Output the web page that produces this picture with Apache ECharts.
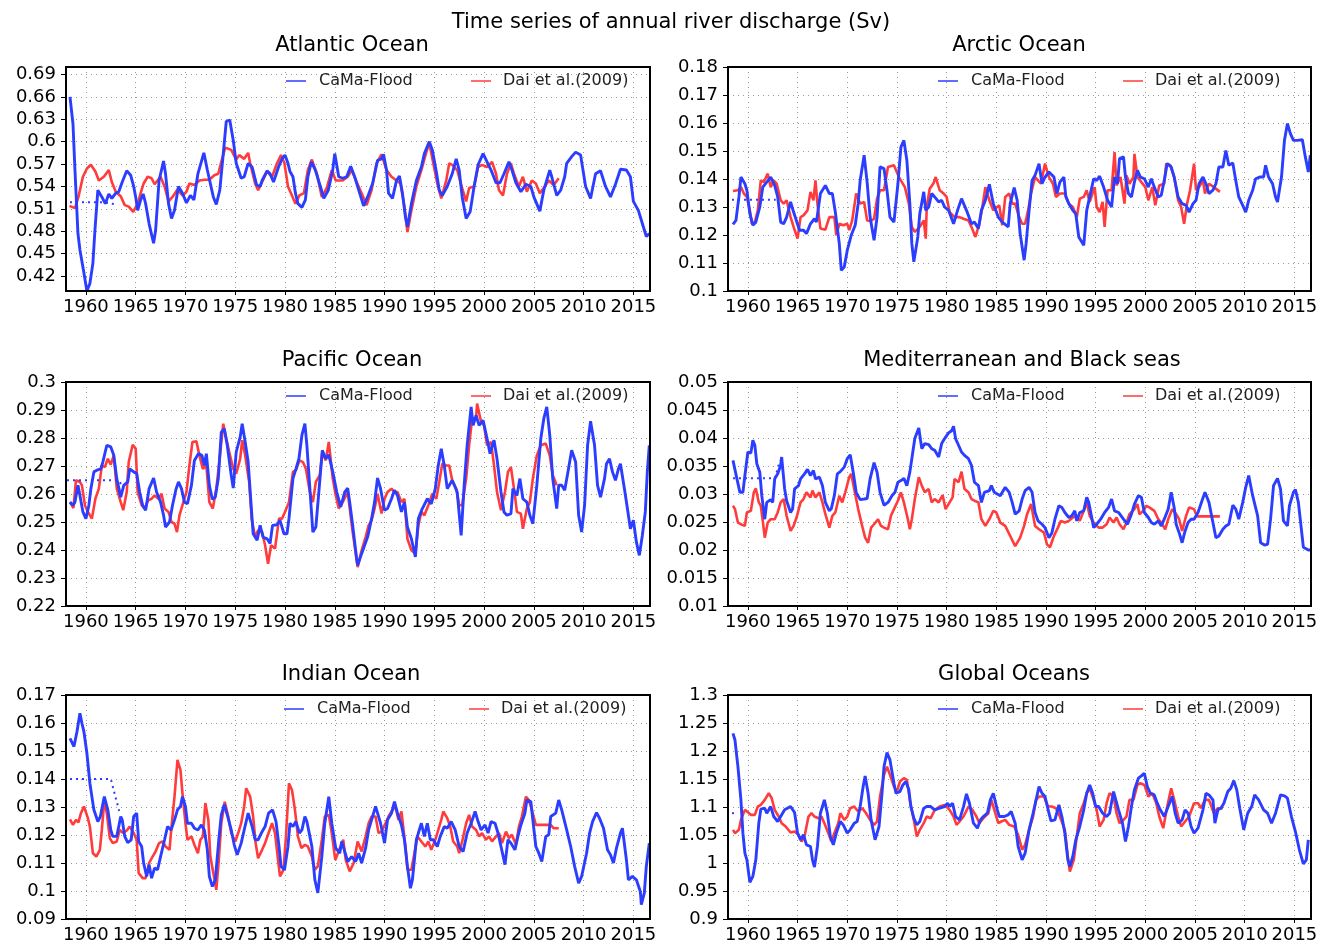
<!DOCTYPE html>
<html>
<head>
<meta charset="utf-8">
<title>Time series of annual river discharge (Sv)</title>
<script src="https://cdn.jsdelivr.net/npm/echarts@6.0.0/dist/echarts.min.js"></script>
<style>
  html, body { margin: 0; padding: 0; background: #fff; }
  #main { width: 1330px; height: 948px; }
</style>
</head>
<body>
<div id="main"></div>
<script>
/*############  tick labels  ############*/
var yearTicks = [1960, 1965, 1970, 1975, 1980, 1985, 1990, 1995, 2000, 2005, 2010, 2015];
var atlTicks = [0.42, 0.45, 0.48, 0.51, 0.54, 0.57, 0.6, 0.63, 0.66, 0.69];
var arcTicks = [0.1, 0.11, 0.12, 0.13, 0.14, 0.15, 0.16, 0.17, 0.18];
var pacTicks = [0.22, 0.23, 0.24, 0.25, 0.26, 0.27, 0.28, 0.29, 0.3];
var medTicks = [0.01, 0.015, 0.02, 0.025, 0.03, 0.035, 0.04, 0.045, 0.05];
var indTicks = [0.09, 0.1, 0.11, 0.12, 0.13, 0.14, 0.15, 0.16, 0.17];
var gloTicks = [0.9, 0.95, 1, 1.05, 1.1, 1.15, 1.2, 1.25, 1.3];

/*############  Atlantic Ocean  ############*/
var atlBlue = [[1958.4,0.660],[1958.7,0.624],[1958.9,0.562],[1959.2,0.477],[1959.4,0.455],[1959.75,0.428],[1960.1,0.400],[1960.4,0.410],[1960.7,0.437],[1960.9,0.480],[1961.2,0.535],[1961.4,0.536],[1961.6,0.526],[1961.95,0.517],[1962.3,0.530],[1962.6,0.524],[1963.0,0.531],[1963.3,0.533],[1963.65,0.546],[1964.1,0.561],[1964.5,0.555],[1964.8,0.540],[1965.0,0.526],[1965.2,0.508],[1965.5,0.522],[1965.75,0.530],[1966.0,0.517],[1966.35,0.490],[1966.8,0.464],[1967.0,0.481],[1967.35,0.548],[1967.8,0.574],[1968.0,0.557],[1968.3,0.517],[1968.6,0.497],[1968.9,0.508],[1969.3,0.540],[1969.7,0.531],[1970.1,0.518],[1970.5,0.528],[1970.85,0.522],[1971.25,0.557],[1971.85,0.585],[1972.2,0.562],[1972.8,0.526],[1973.1,0.516],[1973.45,0.535],[1973.8,0.584],[1974.1,0.627],[1974.45,0.629],[1974.8,0.602],[1975.1,0.571],[1975.6,0.551],[1975.9,0.553],[1976.3,0.571],[1976.7,0.566],[1977.15,0.542],[1977.5,0.540],[1977.7,0.548],[1978.2,0.561],[1978.5,0.557],[1978.85,0.546],[1979.35,0.566],[1979.7,0.577],[1980.0,0.582],[1980.3,0.571],[1980.5,0.560],[1980.8,0.553],[1981.05,0.531],[1981.3,0.517],[1981.7,0.512],[1982.05,0.522],[1982.3,0.553],[1982.65,0.573],[1983.05,0.562],[1983.6,0.538],[1983.9,0.524],[1984.35,0.535],[1984.8,0.562],[1985.0,0.584],[1985.4,0.553],[1985.8,0.551],[1986.2,0.553],[1986.6,0.567],[1987.0,0.553],[1987.5,0.531],[1987.9,0.514],[1988.3,0.526],[1988.8,0.544],[1989.3,0.575],[1989.7,0.577],[1989.9,0.583],[1990.2,0.562],[1990.4,0.531],[1990.8,0.524],[1991.2,0.548],[1991.5,0.554],[1991.8,0.531],[1992.1,0.499],[1992.3,0.486],[1992.7,0.517],[1993.2,0.548],[1993.7,0.566],[1994.0,0.584],[1994.5,0.600],[1994.8,0.589],[1995.2,0.560],[1995.5,0.535],[1995.8,0.528],[1996.3,0.540],[1996.8,0.557],[1997.2,0.577],[1997.5,0.562],[1997.8,0.526],[1998.2,0.497],[1998.6,0.506],[1999.0,0.540],[1999.4,0.569],[1999.9,0.584],[2000.3,0.573],[2000.7,0.562],[2001.2,0.545],[2001.6,0.545],[2002.0,0.557],[2002.5,0.573],[2002.8,0.562],[2003.2,0.545],[2003.7,0.533],[2004.2,0.543],[2004.7,0.540],[2005.0,0.526],[2005.6,0.507],[2006.0,0.535],[2006.6,0.562],[2006.8,0.553],[2007.3,0.528],[2007.7,0.535],[2008.1,0.553],[2008.3,0.571],[2008.8,0.580],[2009.2,0.586],[2009.7,0.582],[2010.2,0.540],[2010.7,0.524],[2011.2,0.557],[2011.7,0.561],[2012.2,0.540],[2012.7,0.526],[2013.2,0.543],[2013.7,0.563],[2014.3,0.562],[2014.7,0.553],[2015.0,0.520],[2015.5,0.508],[2016.0,0.486],[2016.3,0.473],[2016.6,0.477]];
var atlRed = [[1958.35,0.514],[1958.9,0.511],[1959.25,0.526],[1959.7,0.553],[1960.1,0.564],[1960.5,0.569],[1960.95,0.560],[1961.3,0.548],[1961.8,0.553],[1962.3,0.562],[1962.6,0.546],[1963.0,0.533],[1963.5,0.527],[1963.9,0.515],[1964.3,0.513],[1964.75,0.506],[1965.2,0.517],[1965.5,0.531],[1965.8,0.544],[1966.2,0.553],[1966.6,0.551],[1966.9,0.543],[1967.2,0.548],[1967.5,0.553],[1967.9,0.540],[1968.3,0.520],[1968.7,0.526],[1969.2,0.536],[1969.7,0.528],[1970.1,0.533],[1970.4,0.544],[1970.9,0.542],[1971.4,0.548],[1971.9,0.549],[1972.4,0.549],[1972.9,0.555],[1973.3,0.557],[1973.6,0.573],[1974.0,0.592],[1974.6,0.589],[1975.1,0.576],[1975.4,0.582],[1975.9,0.577],[1976.3,0.585],[1976.5,0.571],[1977.0,0.544],[1977.3,0.535],[1977.7,0.546],[1978.2,0.560],[1978.7,0.553],[1979.2,0.571],[1979.6,0.582],[1979.95,0.571],[1980.3,0.540],[1980.7,0.528],[1981.05,0.517],[1981.45,0.528],[1981.9,0.531],[1982.3,0.562],[1982.7,0.576],[1983.2,0.557],[1983.7,0.526],[1984.2,0.538],[1984.7,0.562],[1985.1,0.548],[1985.8,0.548],[1986.3,0.553],[1986.7,0.562],[1987.2,0.546],[1987.7,0.531],[1988.2,0.515],[1988.7,0.535],[1989.2,0.571],[1989.7,0.583],[1990.2,0.562],[1990.7,0.553],[1991.2,0.548],[1991.6,0.544],[1992.0,0.513],[1992.3,0.479],[1992.7,0.508],[1993.2,0.540],[1993.7,0.562],[1994.2,0.586],[1994.5,0.598],[1994.9,0.571],[1995.3,0.544],[1995.7,0.524],[1996.2,0.548],[1996.5,0.571],[1996.8,0.569],[1997.3,0.562],[1997.7,0.542],[1998.2,0.520],[1998.5,0.538],[1999.0,0.540],[1999.4,0.566],[1999.8,0.569],[2000.3,0.566],[2000.8,0.573],[2001.2,0.557],[2001.5,0.535],[2001.9,0.528],[2002.3,0.557],[2002.7,0.571],[2003.0,0.557],[2003.5,0.540],[2003.9,0.553],[2004.3,0.533],[2004.8,0.548],[2005.2,0.544],[2005.6,0.531],[2006.1,0.540],[2006.5,0.548],[2007.0,0.542],[2007.5,0.551]];
var atlDot = [[1958.4,0.519],[1961.8,0.519],[1962.6,0.517],[1963.0,0.516]];

/*############  Arctic Ocean  ############*/
var arcBlue = [[1958.5,0.1238],[1958.8,0.1252],[1959.1,0.1336],[1959.3,0.1407],[1959.7,0.1383],[1959.9,0.136],[1960.2,0.1276],[1960.5,0.1235],[1960.8,0.1246],[1961.2,0.130],[1961.5,0.1371],[1962.0,0.1393],[1962.3,0.1407],[1962.7,0.1377],[1963.0,0.1336],[1963.3,0.1246],[1963.6,0.124],[1963.9,0.1264],[1964.3,0.1318],[1964.6,0.1282],[1964.8,0.1288],[1965.2,0.1217],[1965.6,0.1217],[1965.9,0.1205],[1966.3,0.124],[1966.7,0.1258],[1966.9,0.1246],[1967.3,0.1348],[1967.5,0.136],[1967.8,0.1377],[1968.2,0.1348],[1968.5,0.1348],[1968.8,0.1282],[1969.2,0.1169],[1969.4,0.1074],[1969.7,0.1086],[1970.0,0.1145],[1970.4,0.1199],[1970.8,0.1235],[1971.1,0.1312],[1971.3,0.1395],[1971.7,0.1485],[1972.0,0.1389],[1972.3,0.1264],[1972.7,0.1181],[1973.0,0.1264],[1973.3,0.1443],[1973.7,0.1437],[1974.0,0.136],[1974.3,0.1264],[1974.7,0.1246],[1975.1,0.1383],[1975.4,0.1514],[1975.7,0.1538],[1976.0,0.1467],[1976.3,0.1312],[1976.5,0.1169],[1976.7,0.1104],[1977.1,0.1193],[1977.3,0.1276],[1977.7,0.1354],[1977.9,0.1288],[1978.2,0.130],[1978.5,0.1348],[1978.8,0.1336],[1979.2,0.1318],[1979.5,0.1324],[1979.8,0.130],[1980.2,0.1288],[1980.7,0.124],[1981.1,0.1288],[1981.5,0.133],[1982.0,0.1288],[1982.5,0.124],[1982.8,0.1246],[1983.2,0.1223],[1983.5,0.1288],[1983.9,0.1324],[1984.3,0.1381],[1984.7,0.1312],[1985.2,0.1264],[1985.6,0.1246],[1986.2,0.1229],[1986.4,0.1312],[1986.8,0.1369],[1987.1,0.1324],[1987.4,0.1205],[1987.8,0.111],[1988.0,0.1169],[1988.3,0.1288],[1988.6,0.1395],[1988.9,0.1413],[1989.3,0.1455],[1989.6,0.1383],[1989.9,0.1407],[1990.3,0.1425],[1990.8,0.1407],[1991.1,0.1348],[1991.4,0.1389],[1991.8,0.1407],[1992.0,0.1336],[1992.3,0.1312],[1992.7,0.1288],[1993.0,0.1276],[1993.3,0.1193],[1993.5,0.1187],[1993.8,0.1163],[1994.1,0.1288],[1994.4,0.1336],[1994.8,0.1401],[1995.1,0.1395],[1995.4,0.141],[1995.8,0.1371],[1996.2,0.1324],[1996.6,0.130],[1996.9,0.1407],[1997.2,0.1383],[1997.4,0.1473],[1997.8,0.1479],[1998.0,0.1407],[1998.3,0.1348],[1998.6,0.1336],[1998.9,0.1389],[1999.2,0.1431],[1999.5,0.1407],[1999.9,0.1401],[2000.3,0.1371],[2000.6,0.1401],[2000.9,0.1371],[2001.3,0.1336],[2001.6,0.1342],[2001.9,0.1395],[2002.2,0.1455],[2002.6,0.1443],[2002.9,0.1407],[2003.3,0.1336],[2003.7,0.1312],[2004.1,0.1306],[2004.4,0.1282],[2004.8,0.1312],[2005.1,0.1324],[2005.4,0.1383],[2005.8,0.1407],[2006.1,0.1383],[2006.4,0.1348],[2006.8,0.136],[2007.1,0.1383],[2007.4,0.1443],[2007.8,0.1443],[2008.1,0.1502],[2008.4,0.1449],[2008.8,0.1457],[2009.1,0.1395],[2009.4,0.1336],[2009.8,0.1306],[2010.1,0.1282],[2010.4,0.1324],[2010.8,0.136],[2011.1,0.1401],[2011.5,0.1407],[2011.9,0.1407],[2012.1,0.1449],[2012.4,0.1407],[2012.8,0.1383],[2013.1,0.1336],[2013.3,0.1318],[2013.7,0.1407],[2014.0,0.1538],[2014.3,0.1598],[2014.6,0.1562],[2014.9,0.1538],[2015.3,0.1538],[2015.8,0.154],[2016.1,0.1479],[2016.4,0.1425],[2016.6,0.1485]];
var arcRed = [[1958.5,0.1357],[1959.0,0.136],[1959.3,0.1371],[1959.6,0.1348],[1959.9,0.1336],[1960.2,0.1288],[1960.4,0.124],[1960.7,0.1246],[1961.0,0.1288],[1961.3,0.1395],[1961.6,0.1389],[1962.0,0.1419],[1962.3,0.1371],[1962.6,0.1395],[1962.9,0.1383],[1963.3,0.1324],[1963.6,0.1312],[1963.9,0.1324],[1964.3,0.1264],[1964.6,0.1229],[1965.0,0.1187],[1965.3,0.1264],[1965.6,0.127],[1966.0,0.1288],[1966.3,0.1354],[1966.6,0.1324],[1966.8,0.1395],[1967.0,0.1312],[1967.3,0.1223],[1967.8,0.1219],[1968.2,0.1264],[1968.4,0.127],[1968.7,0.1264],[1968.9,0.1199],[1969.2,0.124],[1969.6,0.1235],[1970.0,0.124],[1970.2,0.1217],[1970.5,0.1252],[1970.9,0.1348],[1971.3,0.1312],[1971.7,0.1318],[1972.0,0.1252],[1972.3,0.125],[1972.7,0.1258],[1973.0,0.133],[1973.3,0.136],[1973.7,0.136],[1974.1,0.1443],[1974.7,0.1449],[1974.9,0.1455],[1975.2,0.1407],[1975.5,0.1389],[1975.8,0.1371],[1976.2,0.1312],[1976.5,0.1229],[1976.8,0.1211],[1977.3,0.1229],[1977.7,0.1252],[1977.9,0.1187],[1978.0,0.130],[1978.3,0.1365],[1978.7,0.1386],[1978.9,0.1407],[1979.3,0.136],[1979.7,0.1348],[1980.0,0.1336],[1980.3,0.1282],[1980.8,0.1264],[1981.3,0.1264],[1981.7,0.1258],[1982.2,0.1252],[1982.5,0.1229],[1982.9,0.1193],[1983.3,0.124],[1983.6,0.130],[1983.9,0.1371],[1984.3,0.1324],[1984.7,0.1288],[1985.3,0.1306],[1985.6,0.1235],[1985.9,0.1336],[1986.3,0.1348],[1986.6,0.1312],[1986.9,0.1312],[1987.3,0.1264],[1987.6,0.124],[1987.9,0.124],[1988.2,0.1288],[1988.5,0.1348],[1988.9,0.1407],[1989.2,0.1395],[1989.5,0.1383],[1989.9,0.1455],[1990.3,0.1407],[1990.7,0.1383],[1991.0,0.1336],[1991.4,0.1348],[1991.9,0.1348],[1992.3,0.1312],[1992.7,0.130],[1993.1,0.1264],[1993.4,0.133],[1993.8,0.1336],[1994.1,0.136],[1994.4,0.1318],[1994.9,0.1371],[1995.1,0.130],[1995.4,0.1282],[1995.7,0.1318],[1995.9,0.1229],[1996.2,0.136],[1996.6,0.136],[1996.9,0.1496],[1997.1,0.1377],[1997.5,0.1407],[1997.9,0.1312],[1998.1,0.1413],[1998.4,0.1383],[1998.8,0.1407],[1998.9,0.149],[1999.2,0.1407],[1999.6,0.1389],[2000.0,0.1371],[2000.3,0.1324],[2000.7,0.1371],[2001.0,0.1306],[2001.4,0.1377],[2001.9,0.1383],[2002.1,0.1455],[2002.5,0.1449],[2002.9,0.1407],[2003.3,0.1324],[2003.6,0.130],[2003.9,0.124],[2004.2,0.1312],[2004.5,0.136],[2004.9,0.1455],[2005.1,0.136],[2005.4,0.1371],[2005.8,0.1395],[2006.0,0.1348],[2006.4,0.1383],[2006.9,0.1371],[2007.5,0.1354]];
var arcDot = [[1958.4,0.1326],[1962.8,0.1326]];

/*############  Pacific Ocean  ############*/
var pacBlue = [[1958.4,0.2571],[1958.7,0.256],[1958.9,0.2571],[1959.2,0.2631],[1959.4,0.2595],[1959.7,0.2536],[1960.0,0.2512],[1960.3,0.256],[1960.5,0.2619],[1960.8,0.2679],[1961.1,0.2685],[1961.5,0.269],[1961.7,0.2714],[1962.1,0.2774],[1962.5,0.2768],[1962.8,0.2738],[1963.1,0.2655],[1963.5,0.2589],[1963.8,0.2631],[1964.2,0.2643],[1964.4,0.269],[1964.8,0.2679],[1965.1,0.2673],[1965.4,0.2607],[1965.7,0.256],[1966.0,0.2542],[1966.35,0.2619],[1966.8,0.2657],[1967.1,0.2607],[1967.5,0.2571],[1967.8,0.2524],[1968.0,0.2482],[1968.4,0.25],[1968.7,0.256],[1969.05,0.2617],[1969.3,0.2643],[1969.6,0.2619],[1969.9,0.2571],[1970.2,0.2565],[1970.6,0.2631],[1970.9,0.272],[1971.3,0.2744],[1971.65,0.2738],[1971.9,0.2702],[1972.1,0.2744],[1972.4,0.2631],[1972.7,0.2581],[1973.0,0.2589],[1973.3,0.2655],[1973.6,0.2821],[1973.9,0.2833],[1974.2,0.2774],[1974.6,0.2667],[1974.8,0.2621],[1975.1,0.275],[1975.5,0.2804],[1975.7,0.2851],[1976.0,0.2786],[1976.3,0.2714],[1976.6,0.256],[1976.8,0.2458],[1977.2,0.2435],[1977.5,0.2488],[1977.8,0.2446],[1978.2,0.244],[1978.5,0.2423],[1978.75,0.2488],[1979.2,0.249],[1979.5,0.2506],[1979.9,0.2458],[1980.2,0.2458],[1980.4,0.2512],[1980.8,0.2655],[1981.1,0.269],[1981.4,0.2726],[1981.7,0.281],[1982.0,0.2851],[1982.2,0.2774],[1982.5,0.2619],[1982.8,0.2464],[1983.1,0.2482],[1983.4,0.2607],[1983.75,0.2756],[1984.1,0.2726],[1984.4,0.274],[1984.8,0.2679],[1985.2,0.2607],[1985.6,0.2554],[1986.0,0.2607],[1986.3,0.2621],[1986.5,0.2571],[1986.8,0.2488],[1987.2,0.2369],[1987.3,0.2345],[1987.7,0.2387],[1988.0,0.2417],[1988.3,0.2446],[1988.7,0.2512],[1989.0,0.2571],[1989.3,0.2657],[1989.6,0.2619],[1990.0,0.2542],[1990.3,0.2548],[1990.7,0.2583],[1991.0,0.2613],[1991.3,0.2595],[1991.7,0.2536],[1992.0,0.2571],[1992.3,0.2482],[1992.7,0.244],[1993.1,0.2375],[1993.4,0.2512],[1993.8,0.2548],[1994.3,0.2583],[1994.7,0.2565],[1995.1,0.2619],[1995.4,0.2702],[1995.7,0.2762],[1996.0,0.2702],[1996.3,0.2619],[1996.8,0.2649],[1997.3,0.2607],[1997.7,0.2452],[1998.0,0.2631],[1998.3,0.2774],[1998.7,0.2911],[1998.9,0.2845],[1999.2,0.2881],[1999.5,0.2845],[1999.9,0.2863],[2000.3,0.2798],[2000.6,0.2744],[2001.0,0.2792],[2001.3,0.2726],[2001.7,0.2607],[2002.0,0.2536],[2002.3,0.2524],[2002.7,0.253],[2002.9,0.2619],[2003.3,0.2595],[2003.6,0.2655],[2003.9,0.2583],[2004.3,0.2571],[2004.6,0.2524],[2004.9,0.2494],[2005.3,0.2631],[2005.7,0.2798],[2006.0,0.2869],[2006.3,0.2911],[2006.6,0.281],[2006.9,0.2655],[2007.3,0.2548],[2007.5,0.2631],[2007.8,0.2631],[2008.1,0.2613],[2008.4,0.2673],[2008.8,0.2756],[2009.2,0.2714],[2009.5,0.2524],[2009.8,0.2464],[2010.1,0.256],[2010.4,0.2774],[2010.7,0.286],[2011.1,0.2774],[2011.4,0.2631],[2011.7,0.2589],[2012.1,0.2655],[2012.3,0.2708],[2012.6,0.2726],[2012.9,0.2679],[2013.2,0.2649],[2013.5,0.269],[2013.7,0.2708],[2014.1,0.2619],[2014.4,0.2548],[2014.7,0.2476],[2015.0,0.2506],[2015.3,0.2429],[2015.6,0.2381],[2015.9,0.2452],[2016.2,0.2536],[2016.4,0.2679],[2016.6,0.2774]];
var pacRed = [[1958.4,0.2571],[1958.75,0.255],[1959.0,0.2649],[1959.4,0.2643],[1959.6,0.2631],[1959.9,0.256],[1960.2,0.2536],[1960.6,0.2512],[1960.95,0.2583],[1961.3,0.2619],[1961.6,0.2702],[1961.9,0.2696],[1962.2,0.2726],[1962.5,0.2705],[1962.8,0.2738],[1963.1,0.2619],[1963.5,0.2571],[1963.75,0.2542],[1964.1,0.2607],[1964.3,0.2714],[1964.7,0.2776],[1965.0,0.2762],[1965.2,0.2607],[1965.6,0.256],[1965.9,0.2548],[1966.25,0.2577],[1966.6,0.2583],[1966.9,0.2595],[1967.3,0.2583],[1967.6,0.2601],[1967.9,0.2548],[1968.3,0.2536],[1968.6,0.25],[1968.9,0.2494],[1969.15,0.2464],[1969.4,0.2524],[1969.7,0.256],[1970.1,0.2607],[1970.4,0.2702],[1970.7,0.2786],[1971.1,0.2788],[1971.4,0.2738],[1971.75,0.269],[1972.1,0.2702],[1972.4,0.2571],[1972.75,0.2548],[1973.1,0.2619],[1973.4,0.2714],[1973.8,0.2851],[1974.1,0.2798],[1974.4,0.275],[1974.8,0.269],[1975.1,0.2673],[1975.5,0.2726],[1975.7,0.2792],[1976.0,0.2738],[1976.4,0.2643],[1976.65,0.2512],[1977.0,0.2446],[1977.3,0.247],[1977.7,0.2464],[1978.0,0.2417],[1978.3,0.2351],[1978.6,0.2417],[1979.0,0.2405],[1979.4,0.2512],[1979.7,0.2512],[1980.0,0.2536],[1980.4,0.2571],[1980.8,0.2679],[1981.1,0.2685],[1981.45,0.272],[1981.8,0.2714],[1982.1,0.269],[1982.5,0.2607],[1982.8,0.2571],[1983.1,0.2643],[1983.5,0.2667],[1983.75,0.275],[1984.1,0.272],[1984.4,0.2786],[1984.8,0.2655],[1985.1,0.2595],[1985.4,0.2548],[1985.8,0.2571],[1986.3,0.2607],[1986.8,0.2464],[1987.3,0.2339],[1987.7,0.2399],[1988.1,0.2446],[1988.4,0.2488],[1988.7,0.2506],[1989.0,0.2548],[1989.3,0.2601],[1989.7,0.253],[1990.0,0.2583],[1990.3,0.2607],[1990.7,0.2619],[1991.0,0.2607],[1991.3,0.2607],[1991.7,0.2571],[1992.0,0.2583],[1992.3,0.244],[1992.7,0.2399],[1993.1,0.2387],[1993.4,0.2488],[1993.7,0.2536],[1994.0,0.2524],[1994.4,0.256],[1994.8,0.2601],[1995.2,0.2583],[1995.5,0.2643],[1995.8,0.2708],[1996.2,0.2702],[1996.5,0.2702],[1996.8,0.2649],[1997.2,0.2619],[1997.5,0.256],[1997.8,0.256],[1998.2,0.2655],[1998.5,0.2774],[1998.8,0.2869],[1999.2,0.2875],[1999.3,0.2923],[1999.7,0.2857],[2000.0,0.2845],[2000.3,0.2774],[2000.7,0.2786],[2001.0,0.2702],[2001.3,0.2607],[2001.7,0.2542],[2002.1,0.2607],[2002.4,0.2679],[2002.7,0.2696],[2003.1,0.2595],[2003.3,0.2536],[2003.7,0.253],[2003.9,0.2476],[2004.3,0.2548],[2004.6,0.2571],[2004.9,0.2655],[2005.3,0.2738],[2005.7,0.2774],[2006.2,0.278],[2006.6,0.2738],[2006.9,0.2667],[2007.3,0.2631]];
var pacDot = [[1958.1,0.2649],[1963.3,0.2649],[1963.8,0.2619]];

/*############  Mediterranean and Black seas  ############*/
var medBlue = [[1958.5,0.036],[1958.7,0.0363],[1958.9,0.0327],[1959.2,0.0303],[1959.5,0.0303],[1959.7,0.0333],[1960.0,0.0375],[1960.3,0.0373],[1960.5,0.0396],[1960.7,0.0387],[1960.9,0.0354],[1961.2,0.0339],[1961.4,0.0297],[1961.7,0.0255],[1961.9,0.0285],[1962.3,0.029],[1962.5,0.0285],[1962.7,0.0327],[1963.0,0.0336],[1963.3,0.0351],[1963.4,0.0366],[1963.7,0.0309],[1963.9,0.0288],[1964.3,0.0267],[1964.5,0.0273],[1964.7,0.0309],[1965.1,0.0315],[1965.3,0.0327],[1965.7,0.0336],[1966.0,0.0344],[1966.3,0.0333],[1966.6,0.0342],[1966.8,0.0327],[1967.2,0.033],[1967.5,0.0315],[1967.8,0.0285],[1968.2,0.027],[1968.4,0.0274],[1968.7,0.0297],[1969.0,0.0336],[1969.3,0.034],[1969.7,0.0348],[1970.0,0.0363],[1970.3,0.037],[1970.6,0.0339],[1970.9,0.0303],[1971.3,0.029],[1971.7,0.0291],[1972.0,0.0292],[1972.3,0.0327],[1972.7,0.0356],[1973.0,0.0339],[1973.3,0.0303],[1973.7,0.028],[1974.1,0.0285],[1974.5,0.0297],[1974.8,0.0303],[1975.1,0.0321],[1975.4,0.0324],[1975.7,0.0328],[1976.0,0.0315],[1976.3,0.0339],[1976.6,0.0375],[1976.8,0.0399],[1977.2,0.0418],[1977.5,0.0381],[1977.8,0.039],[1978.2,0.0388],[1978.5,0.0381],[1978.8,0.0378],[1979.2,0.0366],[1979.5,0.039],[1979.8,0.0399],[1980.2,0.0409],[1980.5,0.0413],[1980.7,0.0421],[1980.9,0.0399],[1981.2,0.0387],[1981.5,0.0375],[1981.8,0.0369],[1982.2,0.0363],[1982.5,0.0351],[1982.8,0.0321],[1983.2,0.0315],[1983.5,0.0285],[1983.8,0.0303],[1984.3,0.0306],[1984.5,0.0315],[1984.8,0.0303],[1985.4,0.0297],[1985.9,0.0312],[1986.3,0.0303],[1986.6,0.0285],[1986.9,0.0264],[1987.3,0.027],[1987.6,0.0291],[1987.9,0.0306],[1988.3,0.0312],[1988.6,0.0303],[1988.9,0.0267],[1989.2,0.0252],[1989.6,0.0246],[1989.9,0.024],[1990.3,0.0222],[1990.6,0.0231],[1990.9,0.0255],[1991.3,0.0279],[1991.6,0.0276],[1991.9,0.0267],[1992.3,0.0258],[1992.6,0.0261],[1992.9,0.027],[1993.1,0.0252],[1993.4,0.0267],[1993.8,0.027],[1994.1,0.0294],[1994.3,0.0285],[1994.8,0.024],[1995.1,0.0246],[1995.5,0.0255],[1995.9,0.0267],[1996.3,0.0276],[1996.6,0.0291],[1996.9,0.027],[1997.3,0.0267],[1997.8,0.0255],[1998.2,0.0246],[1998.6,0.0264],[1998.9,0.0282],[1999.3,0.0297],[1999.6,0.0294],[1999.9,0.0267],[2000.3,0.0258],[2000.6,0.0249],[2000.9,0.0246],[2001.3,0.0252],[2001.6,0.0243],[2001.9,0.0255],[2002.3,0.0273],[2002.6,0.0303],[2002.9,0.0276],[2003.1,0.0246],[2003.4,0.0231],[2003.7,0.0213],[2004.0,0.0234],[2004.3,0.0249],[2004.6,0.0255],[2004.9,0.0255],[2005.3,0.0267],[2005.7,0.0288],[2006.0,0.0303],[2006.4,0.0285],[2006.8,0.0249],[2007.1,0.0222],[2007.4,0.0225],[2007.8,0.0237],[2008.1,0.0243],[2008.4,0.0246],[2008.8,0.028],[2009.1,0.0273],[2009.4,0.0255],[2009.8,0.0285],[2010.1,0.0312],[2010.4,0.0333],[2010.8,0.0297],[2011.3,0.0261],[2011.6,0.0213],[2012.0,0.0209],[2012.3,0.021],[2012.6,0.0255],[2012.9,0.0315],[2013.3,0.0328],[2013.6,0.0309],[2013.9,0.0252],[2014.3,0.0243],[2014.5,0.0279],[2014.9,0.0303],[2015.1,0.0308],[2015.4,0.0285],[2015.9,0.0205],[2016.4,0.020],[2016.6,0.020]];
var medRed = [[1958.5,0.0279],[1958.7,0.0273],[1959.0,0.0249],[1959.3,0.0246],[1959.7,0.0243],[1959.9,0.0267],[1960.3,0.027],[1960.6,0.0303],[1960.8,0.031],[1961.1,0.0285],[1961.3,0.0279],[1961.5,0.0252],[1961.7,0.0222],[1962.0,0.0249],[1962.3,0.0255],[1962.7,0.0255],[1963.0,0.0267],[1963.3,0.0285],[1963.6,0.0291],[1963.9,0.0261],[1964.3,0.0234],[1964.6,0.0243],[1964.9,0.0258],[1965.3,0.0285],[1965.6,0.0291],[1965.9,0.0303],[1966.3,0.0294],[1966.5,0.0306],[1966.8,0.0294],[1967.2,0.0303],[1967.5,0.0285],[1967.8,0.0264],[1968.2,0.024],[1968.5,0.0261],[1968.8,0.0267],[1969.2,0.0297],[1969.5,0.0285],[1969.8,0.0303],[1970.2,0.033],[1970.4,0.0336],[1970.7,0.0309],[1971.1,0.0273],[1971.5,0.0243],[1971.8,0.0222],[1972.1,0.0213],[1972.4,0.024],[1972.7,0.0246],[1973.1,0.0255],[1973.4,0.0243],[1973.7,0.024],[1974.1,0.0237],[1974.4,0.0261],[1974.7,0.0273],[1975.1,0.0288],[1975.4,0.0303],[1975.7,0.0285],[1976.1,0.0255],[1976.3,0.0237],[1976.5,0.0255],[1976.8,0.0291],[1977.2,0.033],[1977.5,0.0315],[1977.8,0.0303],[1978.2,0.0309],[1978.5,0.0285],[1978.8,0.0291],[1979.2,0.0285],[1979.6,0.0298],[1979.9,0.0273],[1980.3,0.0285],[1980.6,0.0294],[1980.8,0.0327],[1981.2,0.0321],[1981.5,0.034],[1981.8,0.0309],[1982.2,0.0303],[1982.5,0.0291],[1982.8,0.0288],[1983.2,0.0285],[1983.5,0.0255],[1983.9,0.0243],[1984.3,0.0255],[1984.7,0.027],[1985.0,0.0267],[1985.4,0.0249],[1985.9,0.0243],[1986.4,0.0225],[1986.9,0.0207],[1987.4,0.0222],[1987.8,0.0243],[1988.1,0.0264],[1988.5,0.0282],[1988.9,0.0243],[1989.3,0.0237],[1989.8,0.0231],[1990.1,0.021],[1990.4,0.0205],[1990.8,0.0225],[1991.2,0.024],[1991.5,0.0252],[1991.9,0.0249],[1992.3,0.0252],[1992.7,0.0258],[1993.1,0.0261],[1993.4,0.0252],[1993.8,0.027],[1994.1,0.0285],[1994.4,0.0261],[1994.9,0.0246],[1995.3,0.024],[1995.7,0.024],[1996.1,0.0246],[1996.4,0.0258],[1996.8,0.0249],[1997.1,0.0258],[1997.4,0.0246],[1997.8,0.0237],[1998.1,0.0249],[1998.4,0.0264],[1998.9,0.0273],[1999.2,0.0282],[1999.4,0.0264],[1999.8,0.027],[2000.1,0.0279],[2000.4,0.0276],[2000.9,0.027],[2001.3,0.0255],[2001.6,0.0249],[2002.0,0.0237],[2002.3,0.0255],[2002.7,0.0273],[2003.1,0.0264],[2003.4,0.0255],[2003.7,0.0234],[2004.1,0.0261],[2004.4,0.0276],[2004.9,0.0273],[2005.2,0.026],[2005.6,0.026],[2006.3,0.026],[2006.9,0.026],[2007.5,0.026]];
var medDot = [[1958.5,0.0328],[1962.7,0.0328],[1963.0,0.0345],[1963.2,0.036]];

/*############  Indian Ocean  ############*/
var indBlue = [[1958.4,0.1545],[1958.6,0.1551],[1958.8,0.1516],[1959.1,0.1569],[1959.4,0.1635],[1959.6,0.1599],[1959.8,0.1569],[1960.1,0.1492],[1960.4,0.1385],[1960.6,0.1337],[1960.8,0.129],[1961.2,0.1248],[1961.45,0.1266],[1961.85,0.1337],[1962.2,0.129],[1962.5,0.1218],[1962.7,0.1195],[1963.1,0.1195],[1963.5,0.1266],[1963.65,0.1254],[1963.9,0.1195],[1964.2,0.1173],[1964.55,0.1183],[1964.8,0.1266],[1965.1,0.1278],[1965.3,0.1177],[1965.6,0.1159],[1965.8,0.110],[1966.1,0.1052],[1966.35,0.1094],[1966.6,0.1046],[1966.9,0.1082],[1967.2,0.1076],[1967.5,0.1123],[1967.9,0.1183],[1968.2,0.123],[1968.55,0.1218],[1968.9,0.1254],[1969.2,0.129],[1969.5,0.1302],[1969.7,0.1337],[1970.0,0.1302],[1970.2,0.1242],[1970.6,0.1242],[1970.9,0.1224],[1971.25,0.1218],[1971.6,0.1236],[1971.9,0.1218],[1972.2,0.1147],[1972.4,0.1052],[1972.7,0.1016],[1973.0,0.104],[1973.35,0.1183],[1973.6,0.1272],[1973.9,0.1308],[1974.2,0.1272],[1974.6,0.1218],[1974.9,0.1165],[1975.2,0.1129],[1975.6,0.1171],[1975.9,0.1218],[1976.3,0.1278],[1976.7,0.123],[1977.0,0.1183],[1977.3,0.1183],[1977.7,0.1212],[1978.0,0.123],[1978.35,0.1278],[1978.75,0.129],[1979.1,0.1248],[1979.4,0.1159],[1979.6,0.1088],[1979.95,0.1076],[1980.3,0.1159],[1980.5,0.1242],[1980.8,0.123],[1981.1,0.1248],[1981.45,0.1207],[1981.7,0.1218],[1982.0,0.1266],[1982.2,0.1248],[1982.5,0.1195],[1982.7,0.1159],[1983.0,0.104],[1983.3,0.0993],[1983.7,0.1123],[1984.0,0.1242],[1984.4,0.1337],[1984.7,0.1242],[1985.1,0.1153],[1985.5,0.1135],[1985.7,0.1177],[1986.0,0.1141],[1986.3,0.1105],[1986.7,0.1123],[1987.1,0.1105],[1987.4,0.1135],[1987.7,0.110],[1988.1,0.1153],[1988.4,0.1218],[1988.7,0.1254],[1989.1,0.1302],[1989.3,0.1302],[1989.6,0.1242],[1989.8,0.1207],[1990.0,0.1171],[1990.3,0.1254],[1990.7,0.1278],[1991.0,0.1319],[1991.3,0.1278],[1991.7,0.1236],[1992.0,0.1183],[1992.3,0.1088],[1992.6,0.101],[1992.8,0.104],[1993.2,0.1183],[1993.4,0.1207],[1993.7,0.1242],[1994.0,0.1195],[1994.3,0.1242],[1994.6,0.1183],[1994.9,0.1183],[1995.3,0.1159],[1995.6,0.1195],[1996.0,0.123],[1996.3,0.1224],[1996.7,0.1248],[1997.1,0.1218],[1997.5,0.1159],[1997.9,0.1141],[1998.3,0.1207],[1998.7,0.1242],[1999.1,0.1284],[1999.4,0.1248],[1999.7,0.1218],[2000.1,0.1236],[2000.4,0.1207],[2000.7,0.1248],[2001.1,0.1242],[2001.4,0.1207],[2001.7,0.1159],[2002.1,0.1094],[2002.4,0.1183],[2002.7,0.1171],[2003.1,0.1147],[2003.4,0.1195],[2003.7,0.1236],[2004.1,0.1278],[2004.3,0.1325],[2004.7,0.1319],[2004.9,0.1254],[2005.2,0.1159],[2005.5,0.1135],[2005.8,0.1105],[2006.2,0.1195],[2006.5,0.1201],[2006.7,0.1266],[2007.2,0.1278],[2007.5,0.1325],[2007.8,0.129],[2008.3,0.1218],[2008.7,0.1159],[2009.1,0.1088],[2009.5,0.1028],[2009.8,0.1052],[2010.3,0.1135],[2010.6,0.1207],[2010.9,0.1248],[2011.3,0.128],[2011.6,0.126],[2012.0,0.1224],[2012.4,0.1147],[2012.7,0.1129],[2013.0,0.110],[2013.3,0.1153],[2013.7,0.1207],[2013.9,0.1224],[2014.3,0.1111],[2014.5,0.104],[2014.9,0.1052],[2015.3,0.104],[2015.7,0.0998],[2015.8,0.0951],[2016.1,0.0993],[2016.3,0.1088],[2016.6,0.1171]];
var indRed = [[1958.4,0.1256],[1958.7,0.1236],[1959.0,0.1254],[1959.25,0.1245],[1959.5,0.1278],[1959.8,0.1302],[1959.9,0.1302],[1960.2,0.126],[1960.4,0.123],[1960.7,0.1135],[1961.05,0.1123],[1961.4,0.1147],[1961.6,0.1218],[1961.85,0.1325],[1962.1,0.1278],[1962.4,0.1189],[1962.7,0.1171],[1963.1,0.1177],[1963.4,0.1218],[1963.75,0.1207],[1964.1,0.1216],[1964.4,0.123],[1964.8,0.1207],[1965.1,0.1183],[1965.3,0.1064],[1965.7,0.1046],[1966.0,0.1046],[1966.35,0.110],[1966.7,0.1123],[1967.0,0.1141],[1967.35,0.1171],[1967.7,0.1177],[1968.0,0.1159],[1968.4,0.1147],[1968.6,0.123],[1968.9,0.1337],[1969.2,0.1468],[1969.5,0.1432],[1969.7,0.1349],[1970.0,0.1242],[1970.2,0.1183],[1970.6,0.1195],[1970.9,0.1165],[1971.25,0.1135],[1971.5,0.1183],[1971.75,0.1195],[1972.0,0.1314],[1972.3,0.1254],[1972.5,0.1123],[1972.8,0.1064],[1973.1,0.1004],[1973.35,0.1111],[1973.6,0.1242],[1973.95,0.1319],[1974.3,0.1266],[1974.6,0.1207],[1975.0,0.1177],[1975.3,0.1207],[1975.6,0.1242],[1975.9,0.1302],[1976.1,0.1367],[1976.5,0.1337],[1976.8,0.1266],[1977.05,0.1171],[1977.3,0.1117],[1977.7,0.1147],[1978.0,0.1171],[1978.35,0.1207],[1978.7,0.1242],[1979.0,0.1207],[1979.3,0.1111],[1979.5,0.1052],[1979.85,0.1076],[1980.1,0.1195],[1980.4,0.1385],[1980.7,0.1361],[1981.0,0.129],[1981.3,0.1195],[1981.65,0.1153],[1982.0,0.1165],[1982.3,0.1159],[1982.7,0.1123],[1983.0,0.1076],[1983.3,0.1088],[1983.7,0.1183],[1984.0,0.1266],[1984.4,0.1272],[1984.7,0.1207],[1985.05,0.1111],[1985.45,0.1147],[1985.85,0.1183],[1986.1,0.1111],[1986.5,0.107],[1986.9,0.110],[1987.3,0.1177],[1987.7,0.1141],[1988.1,0.1195],[1988.4,0.1242],[1988.7,0.1266],[1989.1,0.1266],[1989.4,0.1207],[1989.7,0.1212],[1990.1,0.1242],[1990.4,0.1266],[1990.7,0.1284],[1991.1,0.1302],[1991.4,0.1254],[1991.7,0.1284],[1992.1,0.1159],[1992.3,0.1076],[1992.7,0.1076],[1993.0,0.1135],[1993.3,0.1195],[1993.7,0.1177],[1994.1,0.1159],[1994.4,0.1177],[1994.7,0.1147],[1995.1,0.1183],[1995.4,0.1218],[1995.7,0.1254],[1995.9,0.1284],[1996.3,0.126],[1996.6,0.123],[1996.9,0.1177],[1997.3,0.1159],[1997.5,0.1135],[1997.8,0.1177],[1998.2,0.1242],[1998.5,0.1272],[1998.8,0.123],[1999.2,0.1218],[1999.5,0.1195],[1999.8,0.1207],[2000.2,0.1183],[2000.5,0.1195],[2000.8,0.1177],[2001.2,0.1195],[2001.5,0.1207],[2001.8,0.1171],[2002.2,0.1212],[2002.5,0.1189],[2002.8,0.1201],[2003.2,0.1165],[2003.5,0.123],[2003.8,0.1266],[2004.2,0.1337],[2004.5,0.1325],[2004.8,0.129],[2005.2,0.1236],[2005.7,0.1236],[2006.3,0.1236],[2006.7,0.1236],[2007.0,0.1224],[2007.5,0.1224]];
var indDot = [[1958.4,0.14],[1962.5,0.14],[1963.4,0.1278]];

/*############  Global Oceans  ############*/
var gloBlue = [[1958.5,1.2316],[1958.7,1.2197],[1959.0,1.1722],[1959.3,1.1127],[1959.5,1.0533],[1959.7,1.0176],[1959.9,1.0057],[1960.2,0.9653],[1960.5,0.976],[1960.8,1.0057],[1961.1,1.0711],[1961.3,1.0961],[1961.7,1.0979],[1961.9,1.0889],[1962.3,1.1008],[1962.6,1.083],[1963.0,1.0741],[1963.3,1.083],[1963.7,1.0949],[1964.3,1.1008],[1964.7,1.0901],[1965.0,1.0533],[1965.3,1.0414],[1965.6,1.0503],[1965.9,1.0325],[1966.3,1.0295],[1966.5,1.0057],[1966.7,0.9926],[1967.0,1.0295],[1967.3,1.0889],[1967.7,1.1127],[1968.0,1.0889],[1968.3,1.0473],[1968.6,1.0325],[1968.9,1.0533],[1969.3,1.0741],[1969.6,1.0681],[1970.0,1.0533],[1970.3,1.0592],[1970.7,1.0711],[1971.0,1.0741],[1971.3,1.1008],[1971.6,1.1365],[1971.8,1.1555],[1972.1,1.1246],[1972.4,1.077],[1972.8,1.0414],[1973.2,1.0652],[1973.5,1.1246],[1973.7,1.1722],[1974.0,1.1971],[1974.3,1.1841],[1974.7,1.1424],[1974.9,1.1246],[1975.3,1.1276],[1975.6,1.1394],[1975.9,1.1454],[1976.2,1.1306],[1976.4,1.1008],[1976.7,1.08],[1977.0,1.0681],[1977.3,1.0741],[1977.7,1.0979],[1978.0,1.1008],[1978.4,1.1008],[1978.8,1.0949],[1979.3,1.0979],[1979.8,1.1008],[1980.1,1.1068],[1980.3,1.1008],[1980.6,1.1068],[1980.9,1.083],[1981.3,1.077],[1981.7,1.1008],[1982.0,1.1234],[1982.3,1.1068],[1982.7,1.0711],[1983.1,1.0622],[1983.4,1.077],[1983.7,1.083],[1984.1,1.0889],[1984.4,1.1127],[1984.7,1.1246],[1985.1,1.0949],[1985.3,1.083],[1985.8,1.083],[1986.2,1.086],[1986.5,1.0919],[1986.9,1.0711],[1987.2,1.0295],[1987.6,1.0057],[1987.9,1.0176],[1988.3,1.0592],[1988.7,1.0889],[1989.0,1.1127],[1989.3,1.1365],[1989.6,1.1246],[1989.9,1.1187],[1990.3,1.0889],[1990.5,1.0753],[1990.9,1.077],[1991.3,1.1038],[1991.6,1.083],[1991.9,1.0533],[1992.2,1.0057],[1992.4,0.9938],[1992.7,1.0116],[1993.0,1.0414],[1993.4,1.0652],[1993.8,1.0949],[1994.1,1.1246],[1994.4,1.1394],[1994.7,1.1246],[1995.0,1.1008],[1995.3,1.1008],[1995.7,1.0889],[1996.1,1.083],[1996.4,1.0889],[1996.8,1.1276],[1997.0,1.1306],[1997.3,1.0949],[1997.7,1.0711],[1998.0,1.0384],[1998.3,1.0652],[1998.6,1.1008],[1998.9,1.1306],[1999.3,1.1514],[1999.6,1.1555],[1999.9,1.1603],[2000.2,1.1365],[2000.5,1.1246],[2000.9,1.1216],[2001.2,1.1068],[2001.5,1.0949],[2001.9,1.083],[2002.3,1.1008],[2002.7,1.1187],[2003.0,1.0889],[2003.3,1.0711],[2003.7,1.077],[2004.0,1.0949],[2004.3,1.0889],[2004.6,1.0652],[2004.9,1.0533],[2005.3,1.0622],[2005.8,1.0949],[2006.1,1.1246],[2006.4,1.1216],[2006.8,1.1127],[2007.0,1.0711],[2007.3,1.0949],[2007.6,1.0979],[2007.9,1.1068],[2008.3,1.1276],[2008.6,1.1335],[2008.9,1.1472],[2009.2,1.1306],[2009.5,1.0979],[2009.9,1.0592],[2010.3,1.0889],[2010.7,1.1008],[2011.0,1.1216],[2011.4,1.1127],[2011.9,1.0949],[2012.3,1.0889],[2012.7,1.0711],[2013.1,1.0889],[2013.6,1.1216],[2014.0,1.1199],[2014.3,1.1157],[2014.7,1.083],[2015.1,1.0562],[2015.5,1.0236],[2015.9,0.9986],[2016.2,1.0057],[2016.4,1.0414]];
var gloRed = [[1958.5,1.0592],[1958.7,1.0533],[1959.1,1.0592],[1959.3,1.077],[1959.7,1.0949],[1959.9,1.0919],[1960.3,1.086],[1960.7,1.086],[1961.0,1.1008],[1961.3,1.1038],[1961.7,1.1127],[1962.1,1.1246],[1962.4,1.1157],[1962.7,1.0949],[1963.1,1.083],[1963.4,1.0711],[1963.8,1.0652],[1964.3,1.0545],[1964.7,1.0562],[1965.1,1.0503],[1965.4,1.0384],[1965.7,1.0473],[1966.1,1.083],[1966.4,1.0889],[1966.7,1.083],[1967.1,1.08],[1967.4,1.083],[1967.7,1.0711],[1968.1,1.0533],[1968.4,1.0384],[1968.7,1.0533],[1969.1,1.0711],[1969.3,1.0889],[1969.7,1.077],[1970.0,1.083],[1970.3,1.0979],[1970.7,1.1008],[1971.1,1.0919],[1971.5,1.0979],[1971.9,1.0889],[1972.3,1.077],[1972.7,1.0681],[1973.0,1.0741],[1973.3,1.1187],[1973.7,1.1573],[1974.0,1.1722],[1974.3,1.1573],[1974.7,1.1365],[1975.0,1.1276],[1975.3,1.1454],[1975.7,1.1514],[1976.0,1.1484],[1976.3,1.1127],[1976.7,1.077],[1977.0,1.0473],[1977.3,1.0592],[1977.7,1.0711],[1978.0,1.083],[1978.4,1.08],[1978.8,1.0949],[1979.3,1.1008],[1979.8,1.1038],[1980.3,1.0949],[1980.7,1.083],[1981.0,1.0681],[1981.3,1.0741],[1981.7,1.083],[1982.2,1.1008],[1982.6,1.0949],[1983.0,1.083],[1983.3,1.0711],[1983.7,1.08],[1984.2,1.0889],[1984.5,1.1127],[1984.8,1.0949],[1985.2,1.0711],[1985.5,1.0741],[1985.9,1.077],[1986.3,1.0681],[1986.8,1.0652],[1987.2,1.0503],[1987.6,1.0236],[1987.9,1.0325],[1988.3,1.0592],[1988.7,1.083],[1989.0,1.1127],[1989.3,1.1187],[1989.8,1.1187],[1990.2,1.1008],[1990.6,1.1008],[1991.0,1.0979],[1991.4,1.083],[1991.9,1.0592],[1992.2,1.0116],[1992.4,0.9849],[1992.8,1.0057],[1993.1,1.0473],[1993.4,1.0889],[1993.8,1.1068],[1994.1,1.1246],[1994.4,1.1335],[1994.8,1.1127],[1995.1,1.0949],[1995.4,1.0652],[1995.8,1.077],[1996.1,1.1068],[1996.4,1.1246],[1996.8,1.1187],[1997.1,1.0889],[1997.4,1.0711],[1997.8,1.077],[1998.1,1.083],[1998.4,1.1127],[1998.8,1.1127],[1999.2,1.1394],[1999.5,1.1424],[1999.9,1.1394],[2000.3,1.1187],[2000.7,1.1246],[2001.1,1.1068],[2001.4,1.083],[2001.8,1.0622],[2002.2,1.1008],[2002.6,1.1335],[2002.9,1.1127],[2003.3,1.083],[2003.6,1.0652],[2004.0,1.0741],[2004.4,1.083],[2004.9,1.1068],[2005.3,1.1068],[2005.6,1.0979],[2006.0,1.1127],[2006.4,1.1127],[2006.9,1.0889],[2007.3,1.0979],[2007.8,1.0979]];
var gloDot = [[1958.4,1.089],[1958.8,1.089]];

/*############  panel layout  ############*/
var blue = "#2b3dff";
var red = "#ff3b3b";
var fontName = "DejaVu Sans";
var plotH = 224;

var panels = [
  { name: "Atlantic Ocean", b: atlBlue, r: atlRed, d: atlDot, ticks: atlTicks, min: 0.4, max: 0.7, left: 66, top: 67, width: 584, tx: 352, ty: 46, lg: 286 },
  { name: "Arctic Ocean", b: arcBlue, r: arcRed, d: arcDot, ticks: arcTicks, min: 0.1, max: 0.18, left: 728, top: 67, width: 583, tx: 1019, ty: 46, lg: 938 },
  { name: "Pacific Ocean", b: pacBlue, r: pacRed, d: pacDot, ticks: pacTicks, min: 0.22, max: 0.3, left: 66, top: 382, width: 584, tx: 352, ty: 361, lg: 286 },
  { name: "Mediterranean and Black seas", b: medBlue, r: medRed, d: medDot, ticks: medTicks, min: 0.01, max: 0.05, left: 728, top: 382, width: 583, tx: 1022, ty: 361, lg: 938 },
  { name: "Indian Ocean", b: indBlue, r: indRed, d: indDot, ticks: indTicks, min: 0.09, max: 0.17, left: 66, top: 695, width: 584, tx: 351, ty: 675, lg: 284 },
  { name: "Global Oceans", b: gloBlue, r: gloRed, d: gloDot, ticks: gloTicks, min: 0.9, max: 1.3, left: 728, top: 695, width: 583, tx: 1014, ty: 675, lg: 938 }
];

var grid = [], xAxis = [], yAxis = [], series = [], legend = [], graphic = [];

graphic.push({
  type: "text", x: 671, y: 23,
  style: { text: "Time series of annual river discharge (Sv)", font: "21px " + fontName, fill: "#000", textAlign: "center", textVerticalAlign: "middle" }
});

panels.forEach(function (p, i) {
  grid.push({ left: p.left, top: p.top, width: p.width, height: plotH, show: false });

  xAxis.push({
    type: "value", gridIndex: i, min: 1958, max: 2016.67,
    axisLine: { show: true, onZero: false, lineStyle: { color: "#000", width: 2 } },
    axisTick: { show: true, customValues: yearTicks, length: 4, lineStyle: { color: "#000", width: 1 } },
    axisLabel: { customValues: yearTicks, formatter: function (v) { return String(v); }, color: "#000", fontSize: 18, fontFamily: fontName, margin: 7 },
    splitLine: { show: true, lineStyle: { color: "#999", width: 1, type: [1, 4] } }
  });

  yAxis.push({
    type: "value", gridIndex: i, min: p.min, max: p.max,
    axisLine: { show: true, onZero: false, lineStyle: { color: "#000", width: 2 } },
    axisTick: { show: true, customValues: p.ticks, length: 5, lineStyle: { color: "#000", width: 1 } },
    axisLabel: { customValues: p.ticks, color: "#000", fontSize: 18, fontFamily: fontName, margin: 10 },
    splitLine: { show: true, lineStyle: { color: "#999", width: 1, type: [1, 4] } }
  });

  series.push({
    name: "Dai et al.(2009)", type: "line", xAxisIndex: i, yAxisIndex: i, data: p.r,
    showSymbol: false, symbol: "none", z: 2, lineStyle: { color: red, width: 2.6 }, itemStyle: { color: red }
  });
  series.push({
    name: "CaMa-Flood", type: "line", xAxisIndex: i, yAxisIndex: i, data: p.b,
    showSymbol: false, symbol: "none", z: 3, lineStyle: { color: blue, width: 2.9 }, itemStyle: { color: blue }
  });
  series.push({
    name: "CaMa-Flood (gap)", type: "line", xAxisIndex: i, yAxisIndex: i, data: p.d,
    showSymbol: false, symbol: "none", z: 3, lineStyle: { color: blue, width: 2, type: [2, 4] }
  });

  var ly = p.top + 6;
  legend.push({
    data: ["CaMa-Flood"], left: p.lg, top: ly, padding: 0, icon: "rect", itemWidth: 20, itemHeight: 1.5,
    selectedMode: false, textStyle: { fontSize: 16, fontFamily: fontName, color: "#222", padding: [0, 0, 0, 8] }
  });
  legend.push({
    data: ["Dai et al.(2009)"], left: p.lg + 185, top: ly, padding: 0, icon: "rect", itemWidth: 20, itemHeight: 1.5,
    selectedMode: false, textStyle: { fontSize: 16, fontFamily: fontName, color: "#222", padding: [0, 0, 0, 7] }
  });

  // black frame drawn over the dotted grid lines
  graphic.push({
    type: "rect", z: 100, silent: true,
    shape: { x: p.left, y: p.top, width: p.width, height: plotH },
    style: { fill: null, stroke: "#000", lineWidth: 2 }
  });

  graphic.push({
    type: "text", x: p.tx, y: p.ty,
    style: { text: p.name, font: "21px " + fontName, fill: "#000", textAlign: "center", textVerticalAlign: "middle" }
  });
});

var chart = echarts.init(document.getElementById("main"));
var option = {
  animation: false,
  backgroundColor: "#fff",
  grid: grid,
  xAxis: xAxis,
  yAxis: yAxis,
  legend: legend,
  graphic: graphic,
  series: series
};
chart.setOption(option);
</script>
</body>
</html>
